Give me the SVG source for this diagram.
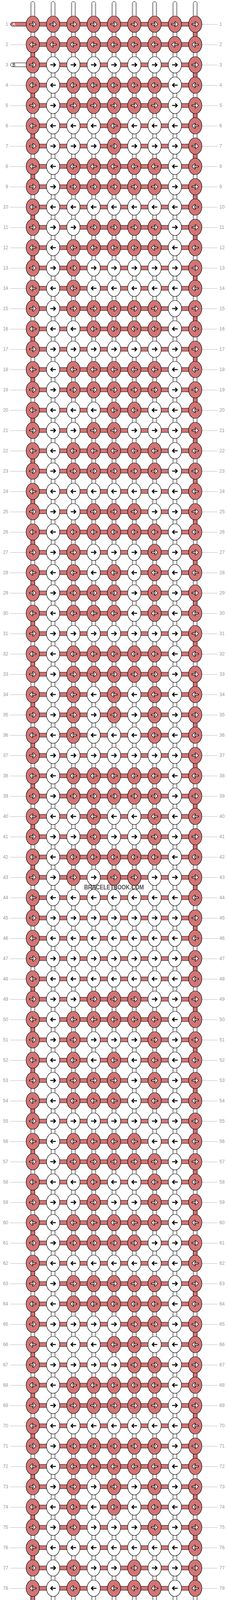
<svg xmlns="http://www.w3.org/2000/svg" width="584" height="4492" viewBox="0 0 584 4492">
<style>
.kr{fill:#d47474;stroke:#000;stroke-width:1.2}
.kw{fill:#fff;stroke:#000;stroke-width:1.2}
.ao{fill:none;stroke:#000;stroke-width:4.4;stroke-linecap:round}
.ai{fill:none;stroke:#fff;stroke-width:2.2}
.ab{fill:none;stroke:#000;stroke-width:2.6}
.rd{fill:#d47474;stroke:#000;stroke-width:1}
.vs{fill:#fff;stroke:#000;stroke-width:1}
.vg{fill:none;stroke:#c8c8c8;stroke-width:1}
.ln{fill:none;stroke:#bbb;stroke-width:1}
.lb{font-family:"Liberation Sans",Arial,sans-serif;font-size:12px;fill:#999}
.pl{font-family:"Liberation Sans",Arial,sans-serif;font-size:11px}
.wm{font-family:"Liberation Sans",Arial,sans-serif;font-size:16px;font-weight:bold;fill:#333;fill-opacity:0.85}
</style>
<defs>
<g id="A"><ellipse class="kr" rx="17" ry="21"/><path class="ao" d="M-7,0H6M1,-5L6,0L1,5"/><path class="ai" d="M-7,0H6M1,-5L6,0L1,5"/></g>
<g id="B"><ellipse class="kw" rx="17" ry="21"/><path class="ab" d="M-7,0H6M1,-5L6,0L1,5"/></g>
<g id="C"><ellipse class="kr" rx="17" ry="21"/><path class="ao" d="M7,0H-6M-1,-5L-6,0L-1,5"/><path class="ai" d="M7,0H-6M-1,-5L-6,0L-1,5"/></g>
<g id="D"><ellipse class="kw" rx="17" ry="21"/><path class="ab" d="M7,0H-6M-1,-5L-6,0L-1,5"/></g>
</defs>
<rect width="584" height="4492" fill="#fff"/>
<g id="connectors">
<g id="vertical-strings">
<rect class="vs" x="79" y="4" width="10" height="4482" rx="5"/>
<rect class="vs" x="131" y="4" width="10" height="4482" rx="5"/>
<rect class="vs" x="183" y="4" width="10" height="4482" rx="5"/>
<rect class="vs" x="235" y="4" width="10" height="4482" rx="5"/>
<rect class="vs" x="287" y="4" width="10" height="4482" rx="5"/>
<rect class="vs" x="339" y="4" width="10" height="4482" rx="5"/>
<rect class="vs" x="391" y="4" width="10" height="4482" rx="5"/>
<rect class="vs" x="443" y="4" width="10" height="4482" rx="5"/>
<rect class="vs" x="495" y="4" width="10" height="4482" rx="5"/>
<path class="vg" d="M81.5,9V4481M86.5,9V4481M133.5,9V4481M138.5,9V4481M185.5,9V4481M190.5,9V4481M237.5,9V4481M242.5,9V4481M289.5,9V4481M294.5,9V4481M341.5,9V4481M346.5,9V4481M393.5,9V4481M398.5,9V4481M445.5,9V4481M450.5,9V4481M497.5,9V4481M502.5,9V4481"/>
</g>
<path id="edge-turns-right" class="rd" d="M495,77h10v22h-10zm0,104h10v22h-10zm0,104h10v22h-10zm0,104h10v22h-10zm0,104h10v22h-10zm0,104h10v22h-10zm0,104h10v22h-10zm0,104h10v22h-10zm0,104h10v22h-10zm0,104h10v22h-10zm0,104h10v22h-10zm0,104h10v22h-10zm0,104h10v22h-10zm0,104h10v22h-10zm0,104h10v22h-10zm0,104h10v22h-10zm0,104h10v22h-10zm0,104h10v22h-10zm0,104h10v22h-10zm0,104h10v22h-10zm0,104h10v22h-10zm0,104h10v22h-10zm0,104h10v22h-10zm0,104h10v22h-10zm0,104h10v22h-10zm0,104h10v22h-10zm0,104h10v22h-10zm0,104h10v22h-10zm0,104h10v22h-10zm0,104h10v22h-10zm0,104h10v22h-10zm0,104h10v22h-10zm0,104h10v22h-10zm0,104h10v22h-10zm0,104h10v22h-10zm0,104h10v22h-10zm0,104h10v22h-10zm0,104h10v22h-10zm0,104h10v22h-10zm0,104h10v22h-10zm0,104h10v22h-10zm0,104h10v22h-10z"/>
<path id="edge-turns-left" class="rd" d="M79,129h10v22h-10zm0,104h10v22h-10zm0,104h10v22h-10zm0,104h10v22h-10zm0,104h10v22h-10zm0,104h10v22h-10zm0,104h10v22h-10zm0,104h10v22h-10zm0,104h10v22h-10zm0,104h10v22h-10zm0,104h10v22h-10zm0,104h10v22h-10zm0,104h10v22h-10zm0,104h10v22h-10zm0,104h10v22h-10zm0,104h10v22h-10zm0,104h10v22h-10zm0,104h10v22h-10zm0,104h10v22h-10zm0,104h10v22h-10zm0,104h10v22h-10zm0,104h10v22h-10zm0,104h10v22h-10zm0,104h10v22h-10zm0,104h10v22h-10zm0,104h10v22h-10zm0,104h10v22h-10zm0,104h10v22h-10zm0,104h10v22h-10zm0,104h10v22h-10zm0,104h10v22h-10zm0,104h10v22h-10zm0,104h10v22h-10zm0,104h10v22h-10zm0,104h10v22h-10zm0,104h10v22h-10zm0,104h10v22h-10zm0,104h10v22h-10zm0,104h10v22h-10zm0,104h10v22h-10zm0,104h10v22h-10zm0,104h10v22h-10z"/>
<path id="label-lines-left" class="ln" d="M26,114.5h44M26,218.5h44m-44,52h44m-44,52h44m-44,52h44m-44,52h44m-44,52h44m-44,52h44m-44,52h44m-44,52h44m-44,52h44m-44,52h44m-44,52h44m-44,52h44m-44,52h44m-44,52h44m-44,52h44m-44,52h44m-44,52h44m-44,52h44m-44,52h44m-44,52h44m-44,52h44m-44,52h44m-44,52h44m-44,52h44m-44,52h44m-44,52h44m-44,52h44m-44,52h44m-44,52h44m-44,52h44m-44,52h44m-44,52h44m-44,52h44m-44,52h44m-44,52h44m-44,52h44m-44,52h44m-44,52h44m-44,52h44m-44,52h44m-44,52h44m-44,52h44m-44,52h44m-44,52h44m-44,52h44m-44,52h44m-44,52h44m-44,52h44m-44,52h44m-44,52h44m-44,52h44m-44,52h44m-44,52h44m-44,52h44m-44,52h44m-44,52h44m-44,52h44m-44,52h44m-44,52h44m-44,52h44m-44,52h44m-44,52h44m-44,52h44m-44,52h44m-44,52h44m-44,52h44m-44,52h44m-44,52h44m-44,52h44m-44,52h44m-44,52h44m-44,52h44m-44,52h44m-44,52h44m-44,52h44m-44,52h44m-44,52h44m-44,52h44"/>
<path id="label-lines-right" class="ln" d="M514,62.5h43m-43,52h43m-43,52h43m-43,52h43m-43,52h43m-43,52h43m-43,52h43m-43,52h43m-43,52h43m-43,52h43m-43,52h43m-43,52h43m-43,52h43m-43,52h43m-43,52h43m-43,52h43m-43,52h43m-43,52h43m-43,52h43m-43,52h43m-43,52h43m-43,52h43m-43,52h43m-43,52h43m-43,52h43m-43,52h43m-43,52h43m-43,52h43m-43,52h43m-43,52h43m-43,52h43m-43,52h43m-43,52h43m-43,52h43m-43,52h43m-43,52h43m-43,52h43m-43,52h43m-43,52h43m-43,52h43m-43,52h43m-43,52h43m-43,52h43m-43,52h43m-43,52h43m-43,52h43m-43,52h43m-43,52h43m-43,52h43m-43,52h43m-43,52h43m-43,52h43m-43,52h43m-43,52h43m-43,52h43m-43,52h43m-43,52h43m-43,52h43m-43,52h43m-43,52h43m-43,52h43m-43,52h43m-43,52h43m-43,52h43m-43,52h43m-43,52h43m-43,52h43m-43,52h43m-43,52h43m-43,52h43m-43,52h43m-43,52h43m-43,52h43m-43,52h43m-43,52h43m-43,52h43m-43,52h43m-43,52h43m-43,52h43M514,4378.5h43"/>
<path id="row-strings" class="rd" d="M84,109h416v10h-416zm0,52h416v10h-416zm0,52h416v10h-416zm0,52h416v10h-416zm0,52h416v10h-416zm0,52h416v10h-416zm0,52h416v10h-416zm0,52h416v10h-416zm0,52h416v10h-416zm0,52h416v10h-416zm0,52h416v10h-416zm0,52h416v10h-416zm0,52h416v10h-416zm0,52h416v10h-416zm0,52h416v10h-416zm0,52h416v10h-416zm0,52h416v10h-416zm0,52h416v10h-416zm0,52h416v10h-416zm0,52h416v10h-416zm0,52h416v10h-416zm0,52h416v10h-416zm0,52h416v10h-416zm0,52h416v10h-416zm0,52h416v10h-416zm0,52h416v10h-416zm0,52h416v10h-416zm0,52h416v10h-416zm0,52h416v10h-416zm0,52h416v10h-416zm0,52h416v10h-416zm0,52h416v10h-416zm0,52h416v10h-416zm0,52h416v10h-416zm0,52h416v10h-416zm0,52h416v10h-416zm0,52h416v10h-416zm0,52h416v10h-416zm0,52h416v10h-416zm0,52h416v10h-416zm0,52h416v10h-416zm0,52h416v10h-416zm0,52h416v10h-416zm0,52h416v10h-416zm0,52h416v10h-416zm0,52h416v10h-416zm0,52h416v10h-416zm0,52h416v10h-416zm0,52h416v10h-416zm0,52h416v10h-416zm0,52h416v10h-416zm0,52h416v10h-416zm0,52h416v10h-416zm0,52h416v10h-416zm0,52h416v10h-416zm0,52h416v10h-416zm0,52h416v10h-416zm0,52h416v10h-416zm0,52h416v10h-416zm0,52h416v10h-416zm0,52h416v10h-416zm0,52h416v10h-416zm0,52h416v10h-416zm0,52h416v10h-416zm0,52h416v10h-416zm0,52h416v10h-416zm0,52h416v10h-416zm0,52h416v10h-416zm0,52h416v10h-416zm0,52h416v10h-416zm0,52h416v10h-416zm0,52h416v10h-416zm0,52h416v10h-416zm0,52h416v10h-416zm0,52h416v10h-416zm0,52h416v10h-416zm0,52h416v10h-416zm0,52h416v10h-416zm0,52h416v10h-416zm0,52h416v10h-416z"/>
<g id="string-A-start"><rect class="rd" x="27" y="57" width="473" height="10" rx="5"/><text class="pl" x="32" y="66" fill="#fff">A</text></g>
<g id="string-B-start"><rect class="vs" x="27" y="161" width="62" height="10" rx="5"/><text class="pl" x="32" y="170" fill="#000">B</text></g>
<g id="string-B-end"><rect class="vs" x="495" y="4321" width="62" height="10" rx="5"/><text class="pl" x="554" y="4330" fill="#000" text-anchor="end">B</text></g>
<g id="string-A-end"><rect class="rd" x="84" y="4425" width="473" height="10" rx="5"/><text class="pl" x="554" y="4434" fill="#fff" text-anchor="end">A</text></g>
</g>
<g id="knots">
<g id="row1" transform="translate(0,62)"><use id="k1-1" href="#A" x="84"/><use id="k1-2" href="#A" x="136"/><use id="k1-3" href="#A" x="188"/><use id="k1-4" href="#A" x="240"/><use id="k1-5" href="#A" x="292"/><use id="k1-6" href="#A" x="344"/><use id="k1-7" href="#A" x="396"/><use id="k1-8" href="#A" x="448"/><use id="k1-9" href="#A" x="500"/></g>
<g id="row2" transform="translate(0,114)"><use id="k2-1" href="#C" x="84"/><use id="k2-2" href="#C" x="136"/><use id="k2-3" href="#C" x="188"/><use id="k2-4" href="#C" x="240"/><use id="k2-5" href="#C" x="292"/><use id="k2-6" href="#C" x="344"/><use id="k2-7" href="#C" x="396"/><use id="k2-8" href="#C" x="448"/><use id="k2-9" href="#C" x="500"/></g>
<g id="row3" transform="translate(0,166)"><use id="k3-1" href="#A" x="84"/><use id="k3-2" href="#B" x="136"/><use id="k3-3" href="#B" x="188"/><use id="k3-4" href="#B" x="240"/><use id="k3-5" href="#B" x="292"/><use id="k3-6" href="#B" x="344"/><use id="k3-7" href="#B" x="396"/><use id="k3-8" href="#B" x="448"/><use id="k3-9" href="#A" x="500"/></g>
<g id="row4" transform="translate(0,218)"><use id="k4-1" href="#C" x="84"/><use id="k4-2" href="#D" x="136"/><use id="k4-3" href="#C" x="188"/><use id="k4-4" href="#C" x="240"/><use id="k4-5" href="#C" x="292"/><use id="k4-6" href="#C" x="344"/><use id="k4-7" href="#C" x="396"/><use id="k4-8" href="#D" x="448"/><use id="k4-9" href="#C" x="500"/></g>
<g id="row5" transform="translate(0,270)"><use id="k5-1" href="#A" x="84"/><use id="k5-2" href="#B" x="136"/><use id="k5-3" href="#A" x="188"/><use id="k5-4" href="#A" x="240"/><use id="k5-5" href="#A" x="292"/><use id="k5-6" href="#A" x="344"/><use id="k5-7" href="#A" x="396"/><use id="k5-8" href="#B" x="448"/><use id="k5-9" href="#A" x="500"/></g>
<g id="row6" transform="translate(0,322)"><use id="k6-1" href="#C" x="84"/><use id="k6-2" href="#D" x="136"/><use id="k6-3" href="#D" x="188"/><use id="k6-4" href="#D" x="240"/><use id="k6-5" href="#C" x="292"/><use id="k6-6" href="#D" x="344"/><use id="k6-7" href="#D" x="396"/><use id="k6-8" href="#D" x="448"/><use id="k6-9" href="#C" x="500"/></g>
<g id="row7" transform="translate(0,374)"><use id="k7-1" href="#A" x="84"/><use id="k7-2" href="#B" x="136"/><use id="k7-3" href="#B" x="188"/><use id="k7-4" href="#B" x="240"/><use id="k7-5" href="#A" x="292"/><use id="k7-6" href="#B" x="344"/><use id="k7-7" href="#B" x="396"/><use id="k7-8" href="#B" x="448"/><use id="k7-9" href="#A" x="500"/></g>
<g id="row8" transform="translate(0,426)"><use id="k8-1" href="#C" x="84"/><use id="k8-2" href="#D" x="136"/><use id="k8-3" href="#C" x="188"/><use id="k8-4" href="#C" x="240"/><use id="k8-5" href="#C" x="292"/><use id="k8-6" href="#C" x="344"/><use id="k8-7" href="#C" x="396"/><use id="k8-8" href="#D" x="448"/><use id="k8-9" href="#C" x="500"/></g>
<g id="row9" transform="translate(0,478)"><use id="k9-1" href="#A" x="84"/><use id="k9-2" href="#B" x="136"/><use id="k9-3" href="#A" x="188"/><use id="k9-4" href="#A" x="240"/><use id="k9-5" href="#A" x="292"/><use id="k9-6" href="#A" x="344"/><use id="k9-7" href="#A" x="396"/><use id="k9-8" href="#B" x="448"/><use id="k9-9" href="#A" x="500"/></g>
<g id="row10" transform="translate(0,530)"><use id="k10-1" href="#C" x="84"/><use id="k10-2" href="#D" x="136"/><use id="k10-3" href="#D" x="188"/><use id="k10-4" href="#D" x="240"/><use id="k10-5" href="#D" x="292"/><use id="k10-6" href="#D" x="344"/><use id="k10-7" href="#D" x="396"/><use id="k10-8" href="#D" x="448"/><use id="k10-9" href="#C" x="500"/></g>
<g id="row11" transform="translate(0,582)"><use id="k11-1" href="#A" x="84"/><use id="k11-2" href="#B" x="136"/><use id="k11-3" href="#B" x="188"/><use id="k11-4" href="#A" x="240"/><use id="k11-5" href="#A" x="292"/><use id="k11-6" href="#A" x="344"/><use id="k11-7" href="#A" x="396"/><use id="k11-8" href="#B" x="448"/><use id="k11-9" href="#A" x="500"/></g>
<g id="row12" transform="translate(0,634)"><use id="k12-1" href="#C" x="84"/><use id="k12-2" href="#D" x="136"/><use id="k12-3" href="#C" x="188"/><use id="k12-4" href="#C" x="240"/><use id="k12-5" href="#C" x="292"/><use id="k12-6" href="#C" x="344"/><use id="k12-7" href="#C" x="396"/><use id="k12-8" href="#D" x="448"/><use id="k12-9" href="#C" x="500"/></g>
<g id="row13" transform="translate(0,686)"><use id="k13-1" href="#A" x="84"/><use id="k13-2" href="#B" x="136"/><use id="k13-3" href="#A" x="188"/><use id="k13-4" href="#B" x="240"/><use id="k13-5" href="#B" x="292"/><use id="k13-6" href="#B" x="344"/><use id="k13-7" href="#B" x="396"/><use id="k13-8" href="#B" x="448"/><use id="k13-9" href="#A" x="500"/></g>
<g id="row14" transform="translate(0,738)"><use id="k14-1" href="#C" x="84"/><use id="k14-2" href="#D" x="136"/><use id="k14-3" href="#C" x="188"/><use id="k14-4" href="#D" x="240"/><use id="k14-5" href="#D" x="292"/><use id="k14-6" href="#D" x="344"/><use id="k14-7" href="#D" x="396"/><use id="k14-8" href="#D" x="448"/><use id="k14-9" href="#C" x="500"/></g>
<g id="row15" transform="translate(0,790)"><use id="k15-1" href="#A" x="84"/><use id="k15-2" href="#B" x="136"/><use id="k15-3" href="#A" x="188"/><use id="k15-4" href="#A" x="240"/><use id="k15-5" href="#A" x="292"/><use id="k15-6" href="#A" x="344"/><use id="k15-7" href="#A" x="396"/><use id="k15-8" href="#B" x="448"/><use id="k15-9" href="#A" x="500"/></g>
<g id="row16" transform="translate(0,842)"><use id="k16-1" href="#C" x="84"/><use id="k16-2" href="#D" x="136"/><use id="k16-3" href="#D" x="188"/><use id="k16-4" href="#C" x="240"/><use id="k16-5" href="#C" x="292"/><use id="k16-6" href="#C" x="344"/><use id="k16-7" href="#C" x="396"/><use id="k16-8" href="#D" x="448"/><use id="k16-9" href="#C" x="500"/></g>
<g id="row17" transform="translate(0,894)"><use id="k17-1" href="#A" x="84"/><use id="k17-2" href="#B" x="136"/><use id="k17-3" href="#B" x="188"/><use id="k17-4" href="#B" x="240"/><use id="k17-5" href="#B" x="292"/><use id="k17-6" href="#B" x="344"/><use id="k17-7" href="#B" x="396"/><use id="k17-8" href="#B" x="448"/><use id="k17-9" href="#A" x="500"/></g>
<g id="row18" transform="translate(0,946)"><use id="k18-1" href="#C" x="84"/><use id="k18-2" href="#D" x="136"/><use id="k18-3" href="#C" x="188"/><use id="k18-4" href="#C" x="240"/><use id="k18-5" href="#C" x="292"/><use id="k18-6" href="#C" x="344"/><use id="k18-7" href="#C" x="396"/><use id="k18-8" href="#D" x="448"/><use id="k18-9" href="#C" x="500"/></g>
<g id="row19" transform="translate(0,998)"><use id="k19-1" href="#A" x="84"/><use id="k19-2" href="#B" x="136"/><use id="k19-3" href="#A" x="188"/><use id="k19-4" href="#A" x="240"/><use id="k19-5" href="#A" x="292"/><use id="k19-6" href="#A" x="344"/><use id="k19-7" href="#A" x="396"/><use id="k19-8" href="#B" x="448"/><use id="k19-9" href="#A" x="500"/></g>
<g id="row20" transform="translate(0,1050)"><use id="k20-1" href="#C" x="84"/><use id="k20-2" href="#D" x="136"/><use id="k20-3" href="#D" x="188"/><use id="k20-4" href="#D" x="240"/><use id="k20-5" href="#C" x="292"/><use id="k20-6" href="#C" x="344"/><use id="k20-7" href="#D" x="396"/><use id="k20-8" href="#D" x="448"/><use id="k20-9" href="#C" x="500"/></g>
<g id="row21" transform="translate(0,1102)"><use id="k21-1" href="#A" x="84"/><use id="k21-2" href="#B" x="136"/><use id="k21-3" href="#B" x="188"/><use id="k21-4" href="#A" x="240"/><use id="k21-5" href="#A" x="292"/><use id="k21-6" href="#B" x="344"/><use id="k21-7" href="#B" x="396"/><use id="k21-8" href="#B" x="448"/><use id="k21-9" href="#A" x="500"/></g>
<g id="row22" transform="translate(0,1154)"><use id="k22-1" href="#C" x="84"/><use id="k22-2" href="#D" x="136"/><use id="k22-3" href="#C" x="188"/><use id="k22-4" href="#C" x="240"/><use id="k22-5" href="#C" x="292"/><use id="k22-6" href="#C" x="344"/><use id="k22-7" href="#C" x="396"/><use id="k22-8" href="#D" x="448"/><use id="k22-9" href="#C" x="500"/></g>
<g id="row23" transform="translate(0,1206)"><use id="k23-1" href="#A" x="84"/><use id="k23-2" href="#B" x="136"/><use id="k23-3" href="#A" x="188"/><use id="k23-4" href="#A" x="240"/><use id="k23-5" href="#A" x="292"/><use id="k23-6" href="#A" x="344"/><use id="k23-7" href="#A" x="396"/><use id="k23-8" href="#B" x="448"/><use id="k23-9" href="#A" x="500"/></g>
<g id="row24" transform="translate(0,1258)"><use id="k24-1" href="#C" x="84"/><use id="k24-2" href="#D" x="136"/><use id="k24-3" href="#D" x="188"/><use id="k24-4" href="#D" x="240"/><use id="k24-5" href="#D" x="292"/><use id="k24-6" href="#D" x="344"/><use id="k24-7" href="#D" x="396"/><use id="k24-8" href="#D" x="448"/><use id="k24-9" href="#C" x="500"/></g>
<g id="row25" transform="translate(0,1310)"><use id="k25-1" href="#A" x="84"/><use id="k25-2" href="#B" x="136"/><use id="k25-3" href="#B" x="188"/><use id="k25-4" href="#A" x="240"/><use id="k25-5" href="#A" x="292"/><use id="k25-6" href="#A" x="344"/><use id="k25-7" href="#B" x="396"/><use id="k25-8" href="#B" x="448"/><use id="k25-9" href="#A" x="500"/></g>
<g id="row26" transform="translate(0,1362)"><use id="k26-1" href="#C" x="84"/><use id="k26-2" href="#D" x="136"/><use id="k26-3" href="#C" x="188"/><use id="k26-4" href="#C" x="240"/><use id="k26-5" href="#C" x="292"/><use id="k26-6" href="#C" x="344"/><use id="k26-7" href="#C" x="396"/><use id="k26-8" href="#D" x="448"/><use id="k26-9" href="#C" x="500"/></g>
<g id="row27" transform="translate(0,1414)"><use id="k27-1" href="#A" x="84"/><use id="k27-2" href="#B" x="136"/><use id="k27-3" href="#A" x="188"/><use id="k27-4" href="#B" x="240"/><use id="k27-5" href="#B" x="292"/><use id="k27-6" href="#B" x="344"/><use id="k27-7" href="#A" x="396"/><use id="k27-8" href="#B" x="448"/><use id="k27-9" href="#A" x="500"/></g>
<g id="row28" transform="translate(0,1466)"><use id="k28-1" href="#C" x="84"/><use id="k28-2" href="#D" x="136"/><use id="k28-3" href="#C" x="188"/><use id="k28-4" href="#D" x="240"/><use id="k28-5" href="#C" x="292"/><use id="k28-6" href="#D" x="344"/><use id="k28-7" href="#C" x="396"/><use id="k28-8" href="#D" x="448"/><use id="k28-9" href="#C" x="500"/></g>
<g id="row29" transform="translate(0,1518)"><use id="k29-1" href="#A" x="84"/><use id="k29-2" href="#B" x="136"/><use id="k29-3" href="#A" x="188"/><use id="k29-4" href="#A" x="240"/><use id="k29-5" href="#A" x="292"/><use id="k29-6" href="#B" x="344"/><use id="k29-7" href="#A" x="396"/><use id="k29-8" href="#B" x="448"/><use id="k29-9" href="#A" x="500"/></g>
<g id="row30" transform="translate(0,1570)"><use id="k30-1" href="#C" x="84"/><use id="k30-2" href="#D" x="136"/><use id="k30-3" href="#C" x="188"/><use id="k30-4" href="#C" x="240"/><use id="k30-5" href="#C" x="292"/><use id="k30-6" href="#D" x="344"/><use id="k30-7" href="#C" x="396"/><use id="k30-8" href="#D" x="448"/><use id="k30-9" href="#C" x="500"/></g>
<g id="row31" transform="translate(0,1622)"><use id="k31-1" href="#A" x="84"/><use id="k31-2" href="#B" x="136"/><use id="k31-3" href="#B" x="188"/><use id="k31-4" href="#B" x="240"/><use id="k31-5" href="#B" x="292"/><use id="k31-6" href="#B" x="344"/><use id="k31-7" href="#B" x="396"/><use id="k31-8" href="#B" x="448"/><use id="k31-9" href="#A" x="500"/></g>
<g id="row32" transform="translate(0,1674)"><use id="k32-1" href="#C" x="84"/><use id="k32-2" href="#D" x="136"/><use id="k32-3" href="#C" x="188"/><use id="k32-4" href="#C" x="240"/><use id="k32-5" href="#C" x="292"/><use id="k32-6" href="#C" x="344"/><use id="k32-7" href="#C" x="396"/><use id="k32-8" href="#D" x="448"/><use id="k32-9" href="#C" x="500"/></g>
<g id="row33" transform="translate(0,1726)"><use id="k33-1" href="#A" x="84"/><use id="k33-2" href="#B" x="136"/><use id="k33-3" href="#A" x="188"/><use id="k33-4" href="#A" x="240"/><use id="k33-5" href="#A" x="292"/><use id="k33-6" href="#A" x="344"/><use id="k33-7" href="#A" x="396"/><use id="k33-8" href="#B" x="448"/><use id="k33-9" href="#A" x="500"/></g>
<g id="row34" transform="translate(0,1778)"><use id="k34-1" href="#C" x="84"/><use id="k34-2" href="#D" x="136"/><use id="k34-3" href="#C" x="188"/><use id="k34-4" href="#D" x="240"/><use id="k34-5" href="#C" x="292"/><use id="k34-6" href="#D" x="344"/><use id="k34-7" href="#C" x="396"/><use id="k34-8" href="#D" x="448"/><use id="k34-9" href="#C" x="500"/></g>
<g id="row35" transform="translate(0,1830)"><use id="k35-1" href="#A" x="84"/><use id="k35-2" href="#B" x="136"/><use id="k35-3" href="#A" x="188"/><use id="k35-4" href="#B" x="240"/><use id="k35-5" href="#A" x="292"/><use id="k35-6" href="#B" x="344"/><use id="k35-7" href="#A" x="396"/><use id="k35-8" href="#B" x="448"/><use id="k35-9" href="#A" x="500"/></g>
<g id="row36" transform="translate(0,1882)"><use id="k36-1" href="#C" x="84"/><use id="k36-2" href="#D" x="136"/><use id="k36-3" href="#C" x="188"/><use id="k36-4" href="#D" x="240"/><use id="k36-5" href="#D" x="292"/><use id="k36-6" href="#D" x="344"/><use id="k36-7" href="#C" x="396"/><use id="k36-8" href="#D" x="448"/><use id="k36-9" href="#C" x="500"/></g>
<g id="row37" transform="translate(0,1934)"><use id="k37-1" href="#A" x="84"/><use id="k37-2" href="#B" x="136"/><use id="k37-3" href="#B" x="188"/><use id="k37-4" href="#B" x="240"/><use id="k37-5" href="#B" x="292"/><use id="k37-6" href="#B" x="344"/><use id="k37-7" href="#B" x="396"/><use id="k37-8" href="#B" x="448"/><use id="k37-9" href="#A" x="500"/></g>
<g id="row38" transform="translate(0,1986)"><use id="k38-1" href="#C" x="84"/><use id="k38-2" href="#D" x="136"/><use id="k38-3" href="#C" x="188"/><use id="k38-4" href="#C" x="240"/><use id="k38-5" href="#C" x="292"/><use id="k38-6" href="#C" x="344"/><use id="k38-7" href="#C" x="396"/><use id="k38-8" href="#D" x="448"/><use id="k38-9" href="#C" x="500"/></g>
<g id="row39" transform="translate(0,2038)"><use id="k39-1" href="#A" x="84"/><use id="k39-2" href="#B" x="136"/><use id="k39-3" href="#A" x="188"/><use id="k39-4" href="#A" x="240"/><use id="k39-5" href="#A" x="292"/><use id="k39-6" href="#A" x="344"/><use id="k39-7" href="#A" x="396"/><use id="k39-8" href="#B" x="448"/><use id="k39-9" href="#A" x="500"/></g>
<g id="row40" transform="translate(0,2090)"><use id="k40-1" href="#C" x="84"/><use id="k40-2" href="#D" x="136"/><use id="k40-3" href="#D" x="188"/><use id="k40-4" href="#C" x="240"/><use id="k40-5" href="#D" x="292"/><use id="k40-6" href="#D" x="344"/><use id="k40-7" href="#C" x="396"/><use id="k40-8" href="#D" x="448"/><use id="k40-9" href="#C" x="500"/></g>
<g id="row41" transform="translate(0,2142)"><use id="k41-1" href="#A" x="84"/><use id="k41-2" href="#B" x="136"/><use id="k41-3" href="#B" x="188"/><use id="k41-4" href="#A" x="240"/><use id="k41-5" href="#B" x="292"/><use id="k41-6" href="#B" x="344"/><use id="k41-7" href="#A" x="396"/><use id="k41-8" href="#B" x="448"/><use id="k41-9" href="#A" x="500"/></g>
<g id="row42" transform="translate(0,2194)"><use id="k42-1" href="#C" x="84"/><use id="k42-2" href="#D" x="136"/><use id="k42-3" href="#C" x="188"/><use id="k42-4" href="#C" x="240"/><use id="k42-5" href="#C" x="292"/><use id="k42-6" href="#C" x="344"/><use id="k42-7" href="#C" x="396"/><use id="k42-8" href="#D" x="448"/><use id="k42-9" href="#C" x="500"/></g>
<g id="row43" transform="translate(0,2246)"><use id="k43-1" href="#A" x="84"/><use id="k43-2" href="#B" x="136"/><use id="k43-3" href="#A" x="188"/><use id="k43-4" href="#B" x="240"/><use id="k43-5" href="#A" x="292"/><use id="k43-6" href="#A" x="344"/><use id="k43-7" href="#B" x="396"/><use id="k43-8" href="#B" x="448"/><use id="k43-9" href="#A" x="500"/></g>
<g id="row44" transform="translate(0,2298)"><use id="k44-1" href="#C" x="84"/><use id="k44-2" href="#D" x="136"/><use id="k44-3" href="#D" x="188"/><use id="k44-4" href="#D" x="240"/><use id="k44-5" href="#D" x="292"/><use id="k44-6" href="#D" x="344"/><use id="k44-7" href="#D" x="396"/><use id="k44-8" href="#D" x="448"/><use id="k44-9" href="#C" x="500"/></g>
<g id="row45" transform="translate(0,2350)"><use id="k45-1" href="#A" x="84"/><use id="k45-2" href="#B" x="136"/><use id="k45-3" href="#B" x="188"/><use id="k45-4" href="#B" x="240"/><use id="k45-5" href="#B" x="292"/><use id="k45-6" href="#B" x="344"/><use id="k45-7" href="#B" x="396"/><use id="k45-8" href="#B" x="448"/><use id="k45-9" href="#A" x="500"/></g>
<g id="row46" transform="translate(0,2402)"><use id="k46-1" href="#C" x="84"/><use id="k46-2" href="#D" x="136"/><use id="k46-3" href="#D" x="188"/><use id="k46-4" href="#D" x="240"/><use id="k46-5" href="#D" x="292"/><use id="k46-6" href="#D" x="344"/><use id="k46-7" href="#D" x="396"/><use id="k46-8" href="#D" x="448"/><use id="k46-9" href="#C" x="500"/></g>
<g id="row47" transform="translate(0,2454)"><use id="k47-1" href="#A" x="84"/><use id="k47-2" href="#B" x="136"/><use id="k47-3" href="#B" x="188"/><use id="k47-4" href="#B" x="240"/><use id="k47-5" href="#B" x="292"/><use id="k47-6" href="#B" x="344"/><use id="k47-7" href="#B" x="396"/><use id="k47-8" href="#B" x="448"/><use id="k47-9" href="#A" x="500"/></g>
<g id="row48" transform="translate(0,2506)"><use id="k48-1" href="#C" x="84"/><use id="k48-2" href="#D" x="136"/><use id="k48-3" href="#D" x="188"/><use id="k48-4" href="#D" x="240"/><use id="k48-5" href="#D" x="292"/><use id="k48-6" href="#D" x="344"/><use id="k48-7" href="#D" x="396"/><use id="k48-8" href="#D" x="448"/><use id="k48-9" href="#C" x="500"/></g>
<g id="row49" transform="translate(0,2558)"><use id="k49-1" href="#A" x="84"/><use id="k49-2" href="#B" x="136"/><use id="k49-3" href="#B" x="188"/><use id="k49-4" href="#A" x="240"/><use id="k49-5" href="#A" x="292"/><use id="k49-6" href="#A" x="344"/><use id="k49-7" href="#B" x="396"/><use id="k49-8" href="#B" x="448"/><use id="k49-9" href="#A" x="500"/></g>
<g id="row50" transform="translate(0,2610)"><use id="k50-1" href="#C" x="84"/><use id="k50-2" href="#D" x="136"/><use id="k50-3" href="#C" x="188"/><use id="k50-4" href="#C" x="240"/><use id="k50-5" href="#C" x="292"/><use id="k50-6" href="#C" x="344"/><use id="k50-7" href="#C" x="396"/><use id="k50-8" href="#D" x="448"/><use id="k50-9" href="#C" x="500"/></g>
<g id="row51" transform="translate(0,2662)"><use id="k51-1" href="#A" x="84"/><use id="k51-2" href="#B" x="136"/><use id="k51-3" href="#A" x="188"/><use id="k51-4" href="#B" x="240"/><use id="k51-5" href="#B" x="292"/><use id="k51-6" href="#B" x="344"/><use id="k51-7" href="#A" x="396"/><use id="k51-8" href="#B" x="448"/><use id="k51-9" href="#A" x="500"/></g>
<g id="row52" transform="translate(0,2714)"><use id="k52-1" href="#C" x="84"/><use id="k52-2" href="#D" x="136"/><use id="k52-3" href="#C" x="188"/><use id="k52-4" href="#D" x="240"/><use id="k52-5" href="#C" x="292"/><use id="k52-6" href="#D" x="344"/><use id="k52-7" href="#C" x="396"/><use id="k52-8" href="#D" x="448"/><use id="k52-9" href="#C" x="500"/></g>
<g id="row53" transform="translate(0,2766)"><use id="k53-1" href="#A" x="84"/><use id="k53-2" href="#B" x="136"/><use id="k53-3" href="#A" x="188"/><use id="k53-4" href="#A" x="240"/><use id="k53-5" href="#A" x="292"/><use id="k53-6" href="#B" x="344"/><use id="k53-7" href="#A" x="396"/><use id="k53-8" href="#B" x="448"/><use id="k53-9" href="#A" x="500"/></g>
<g id="row54" transform="translate(0,2818)"><use id="k54-1" href="#C" x="84"/><use id="k54-2" href="#D" x="136"/><use id="k54-3" href="#C" x="188"/><use id="k54-4" href="#C" x="240"/><use id="k54-5" href="#C" x="292"/><use id="k54-6" href="#D" x="344"/><use id="k54-7" href="#C" x="396"/><use id="k54-8" href="#D" x="448"/><use id="k54-9" href="#C" x="500"/></g>
<g id="row55" transform="translate(0,2870)"><use id="k55-1" href="#A" x="84"/><use id="k55-2" href="#B" x="136"/><use id="k55-3" href="#B" x="188"/><use id="k55-4" href="#B" x="240"/><use id="k55-5" href="#B" x="292"/><use id="k55-6" href="#B" x="344"/><use id="k55-7" href="#B" x="396"/><use id="k55-8" href="#B" x="448"/><use id="k55-9" href="#A" x="500"/></g>
<g id="row56" transform="translate(0,2922)"><use id="k56-1" href="#C" x="84"/><use id="k56-2" href="#D" x="136"/><use id="k56-3" href="#C" x="188"/><use id="k56-4" href="#C" x="240"/><use id="k56-5" href="#C" x="292"/><use id="k56-6" href="#C" x="344"/><use id="k56-7" href="#D" x="396"/><use id="k56-8" href="#D" x="448"/><use id="k56-9" href="#C" x="500"/></g>
<g id="row57" transform="translate(0,2974)"><use id="k57-1" href="#A" x="84"/><use id="k57-2" href="#B" x="136"/><use id="k57-3" href="#A" x="188"/><use id="k57-4" href="#A" x="240"/><use id="k57-5" href="#A" x="292"/><use id="k57-6" href="#A" x="344"/><use id="k57-7" href="#A" x="396"/><use id="k57-8" href="#B" x="448"/><use id="k57-9" href="#A" x="500"/></g>
<g id="row58" transform="translate(0,3026)"><use id="k58-1" href="#C" x="84"/><use id="k58-2" href="#D" x="136"/><use id="k58-3" href="#D" x="188"/><use id="k58-4" href="#C" x="240"/><use id="k58-5" href="#D" x="292"/><use id="k58-6" href="#D" x="344"/><use id="k58-7" href="#C" x="396"/><use id="k58-8" href="#D" x="448"/><use id="k58-9" href="#C" x="500"/></g>
<g id="row59" transform="translate(0,3078)"><use id="k59-1" href="#A" x="84"/><use id="k59-2" href="#B" x="136"/><use id="k59-3" href="#B" x="188"/><use id="k59-4" href="#A" x="240"/><use id="k59-5" href="#B" x="292"/><use id="k59-6" href="#B" x="344"/><use id="k59-7" href="#A" x="396"/><use id="k59-8" href="#B" x="448"/><use id="k59-9" href="#A" x="500"/></g>
<g id="row60" transform="translate(0,3130)"><use id="k60-1" href="#C" x="84"/><use id="k60-2" href="#D" x="136"/><use id="k60-3" href="#C" x="188"/><use id="k60-4" href="#C" x="240"/><use id="k60-5" href="#C" x="292"/><use id="k60-6" href="#C" x="344"/><use id="k60-7" href="#C" x="396"/><use id="k60-8" href="#D" x="448"/><use id="k60-9" href="#C" x="500"/></g>
<g id="row61" transform="translate(0,3182)"><use id="k61-1" href="#A" x="84"/><use id="k61-2" href="#B" x="136"/><use id="k61-3" href="#A" x="188"/><use id="k61-4" href="#A" x="240"/><use id="k61-5" href="#A" x="292"/><use id="k61-6" href="#A" x="344"/><use id="k61-7" href="#B" x="396"/><use id="k61-8" href="#B" x="448"/><use id="k61-9" href="#A" x="500"/></g>
<g id="row62" transform="translate(0,3234)"><use id="k62-1" href="#C" x="84"/><use id="k62-2" href="#D" x="136"/><use id="k62-3" href="#D" x="188"/><use id="k62-4" href="#D" x="240"/><use id="k62-5" href="#D" x="292"/><use id="k62-6" href="#D" x="344"/><use id="k62-7" href="#D" x="396"/><use id="k62-8" href="#D" x="448"/><use id="k62-9" href="#C" x="500"/></g>
<g id="row63" transform="translate(0,3286)"><use id="k63-1" href="#A" x="84"/><use id="k63-2" href="#B" x="136"/><use id="k63-3" href="#A" x="188"/><use id="k63-4" href="#A" x="240"/><use id="k63-5" href="#A" x="292"/><use id="k63-6" href="#A" x="344"/><use id="k63-7" href="#A" x="396"/><use id="k63-8" href="#B" x="448"/><use id="k63-9" href="#A" x="500"/></g>
<g id="row64" transform="translate(0,3338)"><use id="k64-1" href="#C" x="84"/><use id="k64-2" href="#D" x="136"/><use id="k64-3" href="#C" x="188"/><use id="k64-4" href="#C" x="240"/><use id="k64-5" href="#C" x="292"/><use id="k64-6" href="#C" x="344"/><use id="k64-7" href="#C" x="396"/><use id="k64-8" href="#D" x="448"/><use id="k64-9" href="#C" x="500"/></g>
<g id="row65" transform="translate(0,3390)"><use id="k65-1" href="#A" x="84"/><use id="k65-2" href="#B" x="136"/><use id="k65-3" href="#B" x="188"/><use id="k65-4" href="#B" x="240"/><use id="k65-5" href="#B" x="292"/><use id="k65-6" href="#A" x="344"/><use id="k65-7" href="#A" x="396"/><use id="k65-8" href="#B" x="448"/><use id="k65-9" href="#A" x="500"/></g>
<g id="row66" transform="translate(0,3442)"><use id="k66-1" href="#C" x="84"/><use id="k66-2" href="#D" x="136"/><use id="k66-3" href="#D" x="188"/><use id="k66-4" href="#D" x="240"/><use id="k66-5" href="#C" x="292"/><use id="k66-6" href="#C" x="344"/><use id="k66-7" href="#D" x="396"/><use id="k66-8" href="#D" x="448"/><use id="k66-9" href="#C" x="500"/></g>
<g id="row67" transform="translate(0,3494)"><use id="k67-1" href="#A" x="84"/><use id="k67-2" href="#B" x="136"/><use id="k67-3" href="#B" x="188"/><use id="k67-4" href="#B" x="240"/><use id="k67-5" href="#B" x="292"/><use id="k67-6" href="#A" x="344"/><use id="k67-7" href="#A" x="396"/><use id="k67-8" href="#B" x="448"/><use id="k67-9" href="#A" x="500"/></g>
<g id="row68" transform="translate(0,3546)"><use id="k68-1" href="#C" x="84"/><use id="k68-2" href="#D" x="136"/><use id="k68-3" href="#C" x="188"/><use id="k68-4" href="#C" x="240"/><use id="k68-5" href="#C" x="292"/><use id="k68-6" href="#C" x="344"/><use id="k68-7" href="#C" x="396"/><use id="k68-8" href="#D" x="448"/><use id="k68-9" href="#C" x="500"/></g>
<g id="row69" transform="translate(0,3598)"><use id="k69-1" href="#A" x="84"/><use id="k69-2" href="#B" x="136"/><use id="k69-3" href="#A" x="188"/><use id="k69-4" href="#A" x="240"/><use id="k69-5" href="#A" x="292"/><use id="k69-6" href="#A" x="344"/><use id="k69-7" href="#A" x="396"/><use id="k69-8" href="#B" x="448"/><use id="k69-9" href="#A" x="500"/></g>
<g id="row70" transform="translate(0,3650)"><use id="k70-1" href="#C" x="84"/><use id="k70-2" href="#D" x="136"/><use id="k70-3" href="#D" x="188"/><use id="k70-4" href="#D" x="240"/><use id="k70-5" href="#D" x="292"/><use id="k70-6" href="#D" x="344"/><use id="k70-7" href="#D" x="396"/><use id="k70-8" href="#D" x="448"/><use id="k70-9" href="#C" x="500"/></g>
<g id="row71" transform="translate(0,3702)"><use id="k71-1" href="#A" x="84"/><use id="k71-2" href="#B" x="136"/><use id="k71-3" href="#A" x="188"/><use id="k71-4" href="#A" x="240"/><use id="k71-5" href="#A" x="292"/><use id="k71-6" href="#A" x="344"/><use id="k71-7" href="#A" x="396"/><use id="k71-8" href="#B" x="448"/><use id="k71-9" href="#A" x="500"/></g>
<g id="row72" transform="translate(0,3754)"><use id="k72-1" href="#C" x="84"/><use id="k72-2" href="#D" x="136"/><use id="k72-3" href="#C" x="188"/><use id="k72-4" href="#C" x="240"/><use id="k72-5" href="#C" x="292"/><use id="k72-6" href="#C" x="344"/><use id="k72-7" href="#C" x="396"/><use id="k72-8" href="#D" x="448"/><use id="k72-9" href="#C" x="500"/></g>
<g id="row73" transform="translate(0,3806)"><use id="k73-1" href="#A" x="84"/><use id="k73-2" href="#B" x="136"/><use id="k73-3" href="#A" x="188"/><use id="k73-4" href="#B" x="240"/><use id="k73-5" href="#A" x="292"/><use id="k73-6" href="#B" x="344"/><use id="k73-7" href="#A" x="396"/><use id="k73-8" href="#B" x="448"/><use id="k73-9" href="#A" x="500"/></g>
<g id="row74" transform="translate(0,3858)"><use id="k74-1" href="#C" x="84"/><use id="k74-2" href="#D" x="136"/><use id="k74-3" href="#C" x="188"/><use id="k74-4" href="#D" x="240"/><use id="k74-5" href="#C" x="292"/><use id="k74-6" href="#D" x="344"/><use id="k74-7" href="#C" x="396"/><use id="k74-8" href="#D" x="448"/><use id="k74-9" href="#C" x="500"/></g>
<g id="row75" transform="translate(0,3910)"><use id="k75-1" href="#A" x="84"/><use id="k75-2" href="#B" x="136"/><use id="k75-3" href="#A" x="188"/><use id="k75-4" href="#B" x="240"/><use id="k75-5" href="#B" x="292"/><use id="k75-6" href="#B" x="344"/><use id="k75-7" href="#A" x="396"/><use id="k75-8" href="#B" x="448"/><use id="k75-9" href="#A" x="500"/></g>
<g id="row76" transform="translate(0,3962)"><use id="k76-1" href="#C" x="84"/><use id="k76-2" href="#D" x="136"/><use id="k76-3" href="#D" x="188"/><use id="k76-4" href="#D" x="240"/><use id="k76-5" href="#D" x="292"/><use id="k76-6" href="#D" x="344"/><use id="k76-7" href="#D" x="396"/><use id="k76-8" href="#D" x="448"/><use id="k76-9" href="#C" x="500"/></g>
<g id="row77" transform="translate(0,4014)"><use id="k77-1" href="#A" x="84"/><use id="k77-2" href="#B" x="136"/><use id="k77-3" href="#A" x="188"/><use id="k77-4" href="#B" x="240"/><use id="k77-5" href="#B" x="292"/><use id="k77-6" href="#A" x="344"/><use id="k77-7" href="#B" x="396"/><use id="k77-8" href="#B" x="448"/><use id="k77-9" href="#A" x="500"/></g>
<g id="row78" transform="translate(0,4066)"><use id="k78-1" href="#C" x="84"/><use id="k78-2" href="#D" x="136"/><use id="k78-3" href="#C" x="188"/><use id="k78-4" href="#D" x="240"/><use id="k78-5" href="#C" x="292"/><use id="k78-6" href="#C" x="344"/><use id="k78-7" href="#C" x="396"/><use id="k78-8" href="#D" x="448"/><use id="k78-9" href="#C" x="500"/></g>
<g id="row79" transform="translate(0,4118)"><use id="k79-1" href="#A" x="84"/><use id="k79-2" href="#B" x="136"/><use id="k79-3" href="#A" x="188"/><use id="k79-4" href="#B" x="240"/><use id="k79-5" href="#A" x="292"/><use id="k79-6" href="#B" x="344"/><use id="k79-7" href="#A" x="396"/><use id="k79-8" href="#B" x="448"/><use id="k79-9" href="#A" x="500"/></g>
<g id="row80" transform="translate(0,4170)"><use id="k80-1" href="#C" x="84"/><use id="k80-2" href="#D" x="136"/><use id="k80-3" href="#C" x="188"/><use id="k80-4" href="#D" x="240"/><use id="k80-5" href="#C" x="292"/><use id="k80-6" href="#D" x="344"/><use id="k80-7" href="#C" x="396"/><use id="k80-8" href="#D" x="448"/><use id="k80-9" href="#C" x="500"/></g>
<g id="row81" transform="translate(0,4222)"><use id="k81-1" href="#A" x="84"/><use id="k81-2" href="#B" x="136"/><use id="k81-3" href="#A" x="188"/><use id="k81-4" href="#A" x="240"/><use id="k81-5" href="#A" x="292"/><use id="k81-6" href="#B" x="344"/><use id="k81-7" href="#A" x="396"/><use id="k81-8" href="#B" x="448"/><use id="k81-9" href="#A" x="500"/></g>
<g id="row82" transform="translate(0,4274)"><use id="k82-1" href="#C" x="84"/><use id="k82-2" href="#D" x="136"/><use id="k82-3" href="#D" x="188"/><use id="k82-4" href="#C" x="240"/><use id="k82-5" href="#D" x="292"/><use id="k82-6" href="#D" x="344"/><use id="k82-7" href="#C" x="396"/><use id="k82-8" href="#D" x="448"/><use id="k82-9" href="#C" x="500"/></g>
<g id="row83" transform="translate(0,4326)"><use id="k83-1" href="#A" x="84"/><use id="k83-2" href="#B" x="136"/><use id="k83-3" href="#B" x="188"/><use id="k83-4" href="#B" x="240"/><use id="k83-5" href="#B" x="292"/><use id="k83-6" href="#B" x="344"/><use id="k83-7" href="#B" x="396"/><use id="k83-8" href="#B" x="448"/><use id="k83-9" href="#A" x="500"/></g>
<g id="row84" transform="translate(0,4378)"><use id="k84-1" href="#C" x="84"/><use id="k84-2" href="#C" x="136"/><use id="k84-3" href="#C" x="188"/><use id="k84-4" href="#C" x="240"/><use id="k84-5" href="#C" x="292"/><use id="k84-6" href="#C" x="344"/><use id="k84-7" href="#C" x="396"/><use id="k84-8" href="#C" x="448"/><use id="k84-9" href="#C" x="500"/></g>
<g id="row85" transform="translate(0,4430)"><use id="k85-1" href="#A" x="84"/><use id="k85-2" href="#A" x="136"/><use id="k85-3" href="#A" x="188"/><use id="k85-4" href="#A" x="240"/><use id="k85-5" href="#A" x="292"/><use id="k85-6" href="#A" x="344"/><use id="k85-7" href="#A" x="396"/><use id="k85-8" href="#A" x="448"/><use id="k85-9" href="#A" x="500"/></g>
</g>
<g id="row-numbers-left" class="lb" text-anchor="end">
<text x="21" y="66">1</text><text x="21" y="118">2</text><text x="21" y="170">3</text><text x="21" y="222">4</text><text x="21" y="274">5</text><text x="21" y="326">6</text><text x="21" y="378">7</text><text x="21" y="430">8</text><text x="21" y="482">9</text><text x="21" y="534">10</text><text x="21" y="586">11</text><text x="21" y="638">12</text><text x="21" y="690">13</text><text x="21" y="742">14</text><text x="21" y="794">15</text><text x="21" y="846">16</text><text x="21" y="898">17</text><text x="21" y="950">18</text><text x="21" y="1002">19</text><text x="21" y="1054">20</text><text x="21" y="1106">21</text><text x="21" y="1158">22</text><text x="21" y="1210">23</text><text x="21" y="1262">24</text><text x="21" y="1314">25</text><text x="21" y="1366">26</text><text x="21" y="1418">27</text><text x="21" y="1470">28</text><text x="21" y="1522">29</text><text x="21" y="1574">30</text><text x="21" y="1626">31</text><text x="21" y="1678">32</text><text x="21" y="1730">33</text><text x="21" y="1782">34</text><text x="21" y="1834">35</text><text x="21" y="1886">36</text><text x="21" y="1938">37</text><text x="21" y="1990">38</text><text x="21" y="2042">39</text><text x="21" y="2094">40</text><text x="21" y="2146">41</text><text x="21" y="2198">42</text><text x="21" y="2250">43</text><text x="21" y="2302">44</text><text x="21" y="2354">45</text><text x="21" y="2406">46</text><text x="21" y="2458">47</text><text x="21" y="2510">48</text><text x="21" y="2562">49</text><text x="21" y="2614">50</text><text x="21" y="2666">51</text><text x="21" y="2718">52</text><text x="21" y="2770">53</text><text x="21" y="2822">54</text><text x="21" y="2874">55</text><text x="21" y="2926">56</text><text x="21" y="2978">57</text><text x="21" y="3030">58</text><text x="21" y="3082">59</text><text x="21" y="3134">60</text><text x="21" y="3186">61</text><text x="21" y="3238">62</text><text x="21" y="3290">63</text><text x="21" y="3342">64</text><text x="21" y="3394">65</text><text x="21" y="3446">66</text><text x="21" y="3498">67</text><text x="21" y="3550">68</text><text x="21" y="3602">69</text><text x="21" y="3654">70</text><text x="21" y="3706">71</text><text x="21" y="3758">72</text><text x="21" y="3810">73</text><text x="21" y="3862">74</text><text x="21" y="3914">75</text><text x="21" y="3966">76</text><text x="21" y="4018">77</text><text x="21" y="4070">78</text><text x="21" y="4122">79</text><text x="21" y="4174">80</text><text x="21" y="4226">81</text><text x="21" y="4278">82</text><text x="21" y="4330">83</text><text x="21" y="4382">84</text><text x="21" y="4434">85</text>
</g>
<g id="row-numbers-right" class="lb">
<text x="562" y="66">1</text><text x="562" y="118">2</text><text x="562" y="170">3</text><text x="562" y="222">4</text><text x="562" y="274">5</text><text x="562" y="326">6</text><text x="562" y="378">7</text><text x="562" y="430">8</text><text x="562" y="482">9</text><text x="562" y="534">10</text><text x="562" y="586">11</text><text x="562" y="638">12</text><text x="562" y="690">13</text><text x="562" y="742">14</text><text x="562" y="794">15</text><text x="562" y="846">16</text><text x="562" y="898">17</text><text x="562" y="950">18</text><text x="562" y="1002">19</text><text x="562" y="1054">20</text><text x="562" y="1106">21</text><text x="562" y="1158">22</text><text x="562" y="1210">23</text><text x="562" y="1262">24</text><text x="562" y="1314">25</text><text x="562" y="1366">26</text><text x="562" y="1418">27</text><text x="562" y="1470">28</text><text x="562" y="1522">29</text><text x="562" y="1574">30</text><text x="562" y="1626">31</text><text x="562" y="1678">32</text><text x="562" y="1730">33</text><text x="562" y="1782">34</text><text x="562" y="1834">35</text><text x="562" y="1886">36</text><text x="562" y="1938">37</text><text x="562" y="1990">38</text><text x="562" y="2042">39</text><text x="562" y="2094">40</text><text x="562" y="2146">41</text><text x="562" y="2198">42</text><text x="562" y="2250">43</text><text x="562" y="2302">44</text><text x="562" y="2354">45</text><text x="562" y="2406">46</text><text x="562" y="2458">47</text><text x="562" y="2510">48</text><text x="562" y="2562">49</text><text x="562" y="2614">50</text><text x="562" y="2666">51</text><text x="562" y="2718">52</text><text x="562" y="2770">53</text><text x="562" y="2822">54</text><text x="562" y="2874">55</text><text x="562" y="2926">56</text><text x="562" y="2978">57</text><text x="562" y="3030">58</text><text x="562" y="3082">59</text><text x="562" y="3134">60</text><text x="562" y="3186">61</text><text x="562" y="3238">62</text><text x="562" y="3290">63</text><text x="562" y="3342">64</text><text x="562" y="3394">65</text><text x="562" y="3446">66</text><text x="562" y="3498">67</text><text x="562" y="3550">68</text><text x="562" y="3602">69</text><text x="562" y="3654">70</text><text x="562" y="3706">71</text><text x="562" y="3758">72</text><text x="562" y="3810">73</text><text x="562" y="3862">74</text><text x="562" y="3914">75</text><text x="562" y="3966">76</text><text x="562" y="4018">77</text><text x="562" y="4070">78</text><text x="562" y="4122">79</text><text x="562" y="4174">80</text><text x="562" y="4226">81</text><text x="562" y="4278">82</text><text x="562" y="4330">83</text><text x="562" y="4382">84</text><text x="562" y="4434">85</text>
</g>
<text id="watermark" class="wm" x="292" y="2277" text-anchor="middle" textLength="153" lengthAdjust="spacingAndGlyphs">BRACELETBOOK.COM</text>
</svg>
